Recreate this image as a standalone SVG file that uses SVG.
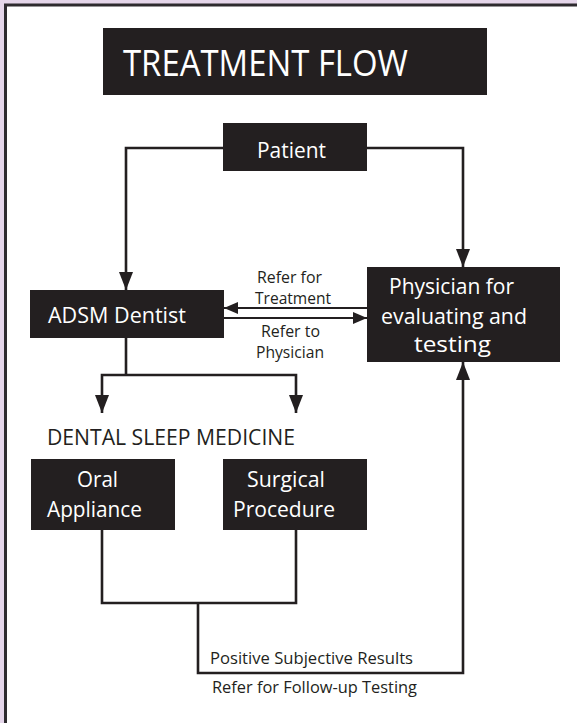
<svg xmlns="http://www.w3.org/2000/svg" width="577" height="723" viewBox="0 0 577 723">
<style>
.box{fill:#231f20}
.wt{fill:#ffffff;font-family:"Open Sans","Liberation Sans",sans-serif}
.bt{fill:#231f20;font-family:"Open Sans","Liberation Sans",sans-serif}
.ln{fill:none;stroke:#231f20;stroke-width:2.6}
.thin{fill:none;stroke:#231f20;stroke-width:2.2}
</style>
<defs>
<marker id="big" markerUnits="userSpaceOnUse" markerWidth="19" markerHeight="15" refX="18" refY="7" orient="auto" viewBox="0 0 19 15">
<path d="M0,0 L18,7 L0,14 z" fill="#231f20"/>
</marker>
<marker id="small" markerUnits="userSpaceOnUse" markerWidth="15" markerHeight="12" refX="14" refY="6" orient="auto" viewBox="0 0 15 12">
<path d="M0,0 L14,6 L0,12 z" fill="#231f20"/>
</marker>
</defs>
<rect x="0" y="0" width="577" height="723" fill="#e5d6ea"/>
<rect x="5.5" y="5" width="620" height="780" fill="#ffffff" stroke="#2e2b2f" stroke-width="3"/>

<g id="connectors">
<path class="ln" d="M223,148 H126 V290" marker-end="url(#big)"/>
<path class="ln" d="M367,148 H463 V267" marker-end="url(#big)"/>
<path class="thin" d="M367,308 H224" marker-end="url(#small)"/>
<path class="thin" d="M224,318 H367" marker-end="url(#small)"/>
<path class="ln" d="M126,338 V375"/>
<path class="ln" d="M126,375 H102 V413" marker-end="url(#big)"/>
<path class="ln" d="M126,375 H296 V413" marker-end="url(#big)"/>
<path class="ln" d="M102,530 V603 H296 V530"/>
<path class="ln" d="M198,603 V673 H463 V362" marker-end="url(#big)"/>
</g>

<g id="title">
<rect class="box" x="103" y="28" width="384" height="67"/>
<text class="wt" x="123" y="76" font-size="37" textLength="285" lengthAdjust="spacingAndGlyphs">TREATMENT FLOW</text>
</g>

<g id="patient">
<rect class="box" x="223" y="123" width="144" height="48"/>
<text class="wt" x="257" y="158" font-size="22.5" textLength="69" lengthAdjust="spacingAndGlyphs">Patient</text>
</g>

<g id="adsm">
<rect class="box" x="30" y="290" width="194" height="48"/>
<text class="wt" x="48" y="323" font-size="21.5" textLength="138" lengthAdjust="spacingAndGlyphs">ADSM Dentist</text>
</g>

<g id="physician">
<rect class="box" x="367" y="267" width="193" height="95"/>
<text class="wt" x="389" y="294" font-size="22" textLength="125" lengthAdjust="spacingAndGlyphs">Physician for</text>
<text class="wt" x="381" y="324" font-size="22" textLength="146" lengthAdjust="spacingAndGlyphs">evaluating and</text>
<text class="wt" x="414" y="352" font-size="22" textLength="77" lengthAdjust="spacingAndGlyphs">testing</text>
</g>

<g id="label-refer-treatment">
<text class="bt" x="257" y="283" font-size="16" textLength="65" lengthAdjust="spacingAndGlyphs">Refer for</text>
<text class="bt" x="255" y="304" font-size="16" textLength="76" lengthAdjust="spacingAndGlyphs">Treatment</text>
</g>
<g id="label-refer-physician">
<text class="bt" x="261" y="337" font-size="16" textLength="59" lengthAdjust="spacingAndGlyphs">Refer to</text>
<text class="bt" x="256" y="358" font-size="16" textLength="68" lengthAdjust="spacingAndGlyphs">Physician</text>
</g>

<g id="dsm-heading">
<text class="bt" x="47" y="445" font-size="21" textLength="248" lengthAdjust="spacingAndGlyphs">DENTAL SLEEP MEDICINE</text>
</g>

<g id="oral-appliance">
<rect class="box" x="31" y="459" width="144" height="71"/>
<text class="wt" x="77" y="487" font-size="22.5" textLength="41" lengthAdjust="spacingAndGlyphs">Oral</text>
<text class="wt" x="47" y="517" font-size="22.5" textLength="95" lengthAdjust="spacingAndGlyphs">Appliance</text>
</g>

<g id="surgical-procedure">
<rect class="box" x="223" y="459" width="144" height="71"/>
<text class="wt" x="247" y="487" font-size="22.5" textLength="78" lengthAdjust="spacingAndGlyphs">Surgical</text>
<text class="wt" x="233" y="517" font-size="22.5" textLength="102" lengthAdjust="spacingAndGlyphs">Procedure</text>
</g>

<g id="label-followup">
<text class="bt" x="210" y="664" font-size="17" textLength="203" lengthAdjust="spacingAndGlyphs">Positive Subjective Results</text>
<text class="bt" x="212" y="693" font-size="17" textLength="205" lengthAdjust="spacingAndGlyphs">Refer for Follow-up Testing</text>
</g>
</svg>
